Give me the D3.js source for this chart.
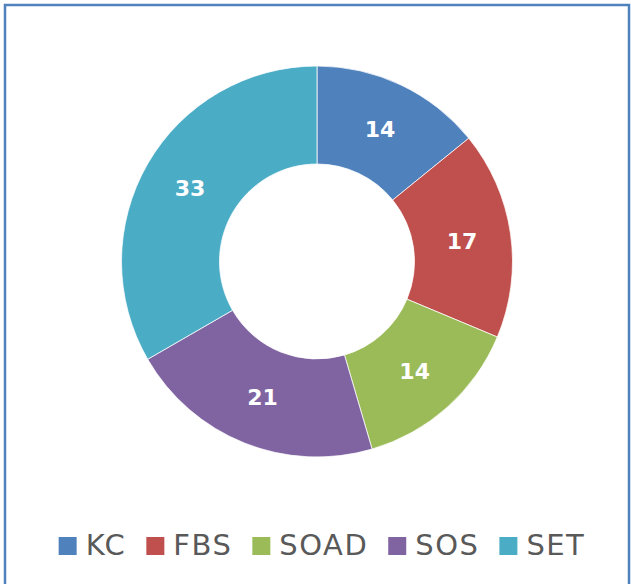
<!DOCTYPE html>
<html>
<head>
<meta charset="utf-8">
<script src="https://cdn.jsdelivr.net/npm/d3@7"></script>
<style>
html,body{margin:0;padding:0;background:#fff;}
svg{display:block;}
</style>
</head>
<body>
<svg id="chart" width="631" height="584"></svg>
<script>
const categories = ["KC", "FBS", "SOAD", "SOS", "SET"];
const values = [14, 17, 14, 21, 33];
const colors = ["#4F81BD", "#C0504D", "#9BBB59", "#8064A2", "#4BACC6"];

const svg = d3.select("#chart");

// frame
svg.append("rect")
  .attr("x", 5).attr("y", 5)
  .attr("width", 624).attr("height", 584)
  .attr("fill", "#fff")
  .attr("stroke", "#4F81BD").attr("stroke-width", 2.5);

const cx = 317, cy = 261.5, outerR = 195.5, innerR = 97.5;
const data = categories.map((c, i) => ({cat: c, value: values[i], color: colors[i]}));

const pie = d3.pie().value(d => d.value).sort(null);
const arc = d3.arc().innerRadius(innerR).outerRadius(outerR);
const labelArc = d3.arc().innerRadius((innerR + outerR) / 2).outerRadius((innerR + outerR) / 2);

const g = svg.append("g").attr("transform", `translate(${cx},${cy})`);
const arcs = pie(data);
g.selectAll("path.slice").data(arcs).enter().append("path")
  .attr("class", "slice")
  .attr("d", arc)
  .attr("fill", d => d.data.color)
  .attr("stroke", "#fff").attr("stroke-width", 0.75);

g.selectAll("text.lbl").data(arcs).enter().append("text")
  .attr("class", "lbl")
  .attr("transform", d => `translate(${labelArc.centroid(d)})`)
  .attr("text-anchor", "middle")
  .attr("dy", "0.36em")
  .attr("font-family", "'DejaVu Sans', sans-serif")
  .attr("font-weight", "bold")
  .attr("font-size", 22)
  .attr("fill", "#fff")
  .text(d => d.data.value);

// legend
const legend = svg.append("g");
const fontSize = 29;
const sq = 18, gapSqText = 9, gapItems = 20;
const items = legend.selectAll("g.item").data(data).enter().append("g").attr("class", "item");
items.append("rect").attr("width", sq).attr("height", sq).attr("fill", d => d.color);
items.append("text")
  .attr("x", sq + gapSqText)
  .attr("y", sq)
  .attr("font-family", "'DejaVu Sans', sans-serif")
  .attr("font-size", fontSize)
  .attr("letter-spacing", 1.5)
  .attr("fill", "#595959")
  .text(d => d.cat);
const widths = [];
items.each(function() {
  const t = d3.select(this).select("text").node().getComputedTextLength();
  widths.push(sq + gapSqText + t);
});
const total = widths.reduce((a, b) => a + b, 0) + gapItems * (widths.length - 1);
const startX = (56 + 588) / 2 - total / 2;
items.attr("transform", (d, i) => {
  const px = startX + widths.slice(0, i).reduce((a, b) => a + b, 0) + gapItems * i;
  return `translate(${px},537)`;
});
</script>
</body>
</html>
